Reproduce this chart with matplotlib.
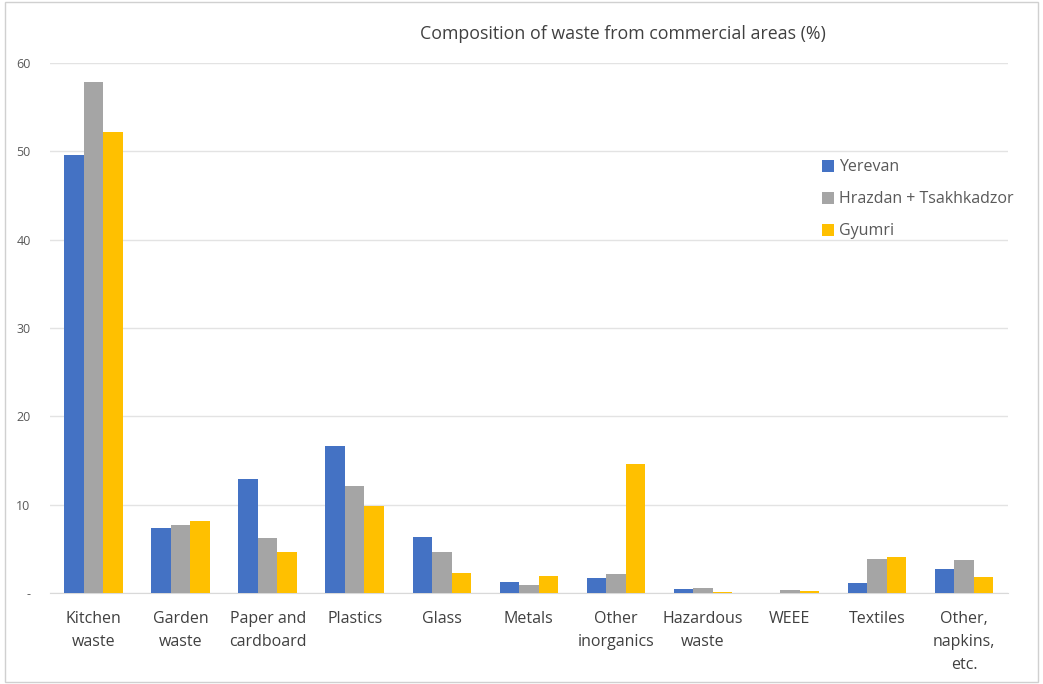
import numpy as np
import matplotlib
matplotlib.use("Agg")
import matplotlib.pyplot as plt
from matplotlib.patches import Rectangle

plt.rcParams['font.family'] = ['Open Sans', 'DejaVu Sans']

categories = ["Kitchen\nwaste", "Garden\nwaste", "Paper and\ncardboard", "Plastics", "Glass",
              "Metals", "Other\ninorganics", "Hazardous\nwaste", "WEEE", "Textiles",
              "Other,\nnapkins,\netc."]
yerevan = [49.6, 7.4, 12.9, 16.6, 6.3, 1.2, 1.7, 0.4, 0.0, 1.1, 2.7]
hrazdan = [57.8, 7.7, 6.2, 12.1, 4.6, 0.9, 2.1, 0.6, 0.3, 3.9, 3.7]
gyumri = [52.2, 8.2, 4.7, 9.8, 2.3, 1.9, 14.6, 0.1, 0.2, 4.1, 1.8]
series = [("Yerevan", yerevan, "#4472C4"),
          ("Hrazdan + Tsakhkadzor", hrazdan, "#A5A5A5"),
          ("Gyumri", gyumri, "#FFC000")]
yticks = [0, 10, 20, 30, 40, 50, 60]
ytick_labels = ["-", "10", "20", "30", "40", "50", "60"]

fig = plt.figure(figsize=(10.43, 6.84), dpi=100)
ax = fig.add_axes([0.048, 0.133, 0.918, 0.775])

x = np.arange(len(categories))
w = 0.224
for i, (name, vals, col) in enumerate(series):
    ax.bar(x + (i - 1) * w, vals, w, color=col, label=name, zorder=3)

ax.set_xlim(-0.5, len(categories) - 0.5)
ax.set_ylim(0, 60)
ax.set_yticks(yticks)
ax.set_yticklabels(ytick_labels, fontsize=9, color="#595959")
ax.set_xticks(x)
ax.set_xticklabels(categories, fontsize=11.5, color="#404040", linespacing=1.6, va="top")
ax.tick_params(axis="both", length=0)
ax.tick_params(axis="y", pad=14)
ax.tick_params(axis="x", pad=13)
ax.grid(axis="y", color="#E3E3E3", linewidth=1, zorder=0)
for s in ["top", "right", "left"]:
    ax.spines[s].set_visible(False)
ax.spines["bottom"].set_color("#D9D9D9")

fig.text(0.5975, 0.950, "Composition of waste from commercial areas (%)", ha="center", va="center",
         fontsize=12.8, color="#404040")

ax.legend(loc="upper left", bbox_to_anchor=(0.791, 0.845), frameon=False, fontsize=11.5,
          handlelength=0.75, handleheight=0.75, handletextpad=0.35, labelspacing=1.0,
          labelcolor="#595959")

fig.patches.append(Rectangle((0.005, 0.003), 0.99, 0.994, transform=fig.transFigure,
                             fill=False, edgecolor="#D0D0D0", linewidth=1))

fig.savefig("out.png", dpi=100)
